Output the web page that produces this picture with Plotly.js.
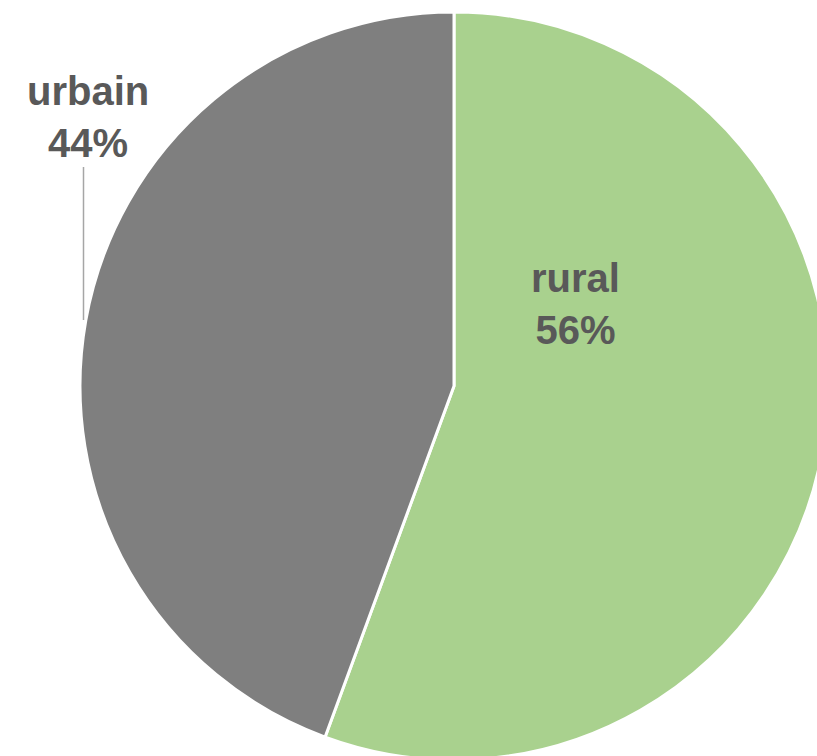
<!DOCTYPE html>
<html>
<head>
<meta charset="utf-8">
<script src="https://cdn.plot.ly/plotly-3.0.1.min.js"></script>
<style>
html, body { margin: 0; padding: 0; overflow: hidden; background: #fff; }
#chart { width: 908px; height: 772px; }
</style>
</head>
<body>
<div id="chart"></div>
<script>
const categories = ['rural', 'urbain'];
const values = [55.6, 44.4];
const colors = ['#A9D18E', '#7F7F7F'];

const W = 908, H = 772;
const total = values.reduce((a, b) => a + b, 0);
const pct = values.map(v => Math.round(v / total * 100) + '%');

// label anchor positions (pixels)
const labelPos = [[575, 304], [88, 117]];

const annotations = categories.map((c, i) => ({
  text: '<b>' + c + '</b><br><b>' + pct[i] + '</b>',
  x: labelPos[i][0] / W, y: 1 - labelPos[i][1] / H,
  xref: 'paper', yref: 'paper', xanchor: 'center', yanchor: 'middle',
  showarrow: false,
  font: { family: 'Liberation Sans, Arial, sans-serif', size: 40, color: '#595959' }
}));

const data = [{
  type: 'pie',
  labels: categories,
  values: values,
  marker: { colors: colors, line: { color: '#ffffff', width: 3 } },
  sort: false,
  direction: 'clockwise',
  rotation: 0,
  textinfo: 'none',
  hoverinfo: 'none',
  domain: { x: [0, 1], y: [12 / H, 1 - 12 / H] }
}];

const layout = {
  width: W, height: H,
  margin: { l: 0, r: 0, t: 0, b: 0 },
  showlegend: false,
  paper_bgcolor: '#ffffff',
  annotations: annotations,
  shapes: [{
    type: 'line', xref: 'paper', yref: 'paper',
    x0: 83.5 / W, x1: 83.5 / W, y0: 1 - 167 / H, y1: 1 - 320 / H,
    line: { color: '#A6A6A6', width: 1.5 }
  }]
};

Plotly.newPlot('chart', data, layout, { displayModeBar: false, staticPlot: true });
</script>
</body>
</html>
